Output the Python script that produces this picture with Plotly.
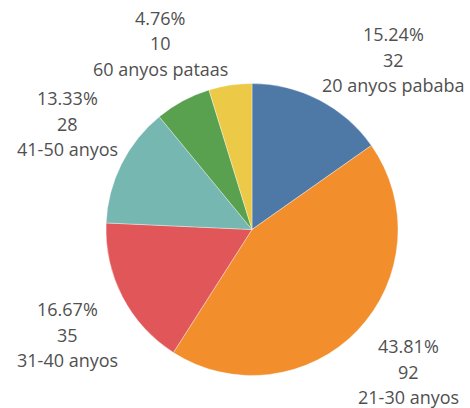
import plotly.graph_objects as go

labels = ["20 anyos pababa", "21-30 anyos", "31-40 anyos", "41-50 anyos", "51-60 anyos", "60 anyos pataas"]
values = [32, 92, 35, 28, 13, 10]
colors = ["#4e79a7", "#f28e2b", "#e15759", "#76b7b2", "#59a14f", "#edc948"]
show_label = [True, True, True, True, False, True]

# label block centre (px from top-left) for each category: x, y of first line
label_px = [(393, 34), (408, 346), (67, 309), (67, 98), None, (160, 18)]
line_gap = 25.5

W, H = 470, 408
total = sum(values)

fig = go.Figure(go.Pie(
    labels=labels,
    values=values,
    marker=dict(colors=colors, line=dict(color="rgba(255,255,255,0.6)", width=0.6)),
    sort=False,
    direction="clockwise",
    rotation=0,
    textinfo="none",
    hoverinfo="label+value+percent",
    domain=dict(x=[105.5 / W, 398.5 / W], y=[1 - 375.5 / H, 1 - 83.5 / H]),
    showlegend=False,
))

for lab, v, show, pos in zip(labels, values, show_label, label_px):
    if not show:
        continue
    lines = [f"{v/total*100:.2f}%", f"{v}", lab]
    x0, y0 = pos
    for i, t in enumerate(lines):
        fig.add_annotation(
            x=x0 / W, y=1 - (y0 + i * line_gap) / H, xref="paper", yref="paper",
            text=t, showarrow=False, xanchor="center", yanchor="middle",
            align="center",
            font=dict(family="Open Sans", size=18, color="#505050"),
        )

fig.update_layout(
    width=W, height=H,
    margin=dict(l=0, r=0, t=0, b=0),
    paper_bgcolor="white", plot_bgcolor="white",
)

fig.write_html("out.html", config={"displayModeBar": False},
               post_script="document.body.style.margin='0';")
